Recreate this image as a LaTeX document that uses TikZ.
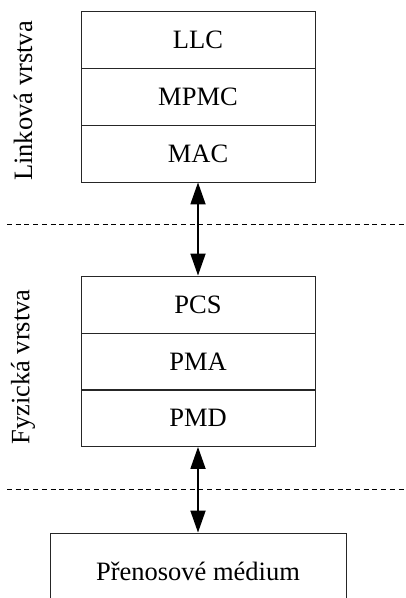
\documentclass[tikz,border=0pt]{standalone}
\usepackage{fontspec}
\setmainfont{Liberation Serif}
\usetikzlibrary{arrows.meta}
\begin{document}
\begin{tikzpicture}[x=1pt,y=-1pt,
  layer/.style={draw=black!85, line width=0.9pt, minimum width=234pt, minimum height=57pt, inner sep=0pt, font=\fontsize{26.5}{31}\selectfont},
  sidelabel/.style={rotate=90, inner sep=0pt, font=\fontsize{26.5}{31}\selectfont},
  link/.style={line width=1.8pt, {Triangle[width=15pt,length=22pt]}-{Triangle[width=15pt,length=22pt]}},
  sep/.style={line width=1.9pt, dash pattern=on 5pt off 3.7pt}]
\useasboundingbox (0,0) rectangle (406,598);
\clip (0,0) rectangle (406,598);
\node[layer] (llc) at (198,40) {LLC};
\node[layer] (mpmc) at (198,96.5) {MPMC};
\node[layer] (mac) at (198,153.5) {MAC};
\node[layer] (pcs) at (198,304.5) {PCS};
\node[layer] (pma) at (198,361.5) {PMA};
\node[layer] (pmd) at (198,418) {PMD};
\node[layer, minimum width=296pt, minimum height=76pt] (med) at (198,571) {Přenosové médium};
\node[sidelabel] (l1) at (23,101) {Linková vrstva};
\node[sidelabel] (l2) at (23,367) {Fyzická vrstva};
\coordinate (d1l) at (7,224.5);
\coordinate (d1r) at (406,224.5);
\coordinate (d2l) at (7,489.5);
\coordinate (d2r) at (406,489.5);
\draw[sep] (d1l) -- (d1r);
\draw[sep] (d2l) -- (d2r);
\draw[link] (mac.south) -- (pcs.north);
\draw[link] (pmd.south) -- (med.north);
\end{tikzpicture}
\end{document}
